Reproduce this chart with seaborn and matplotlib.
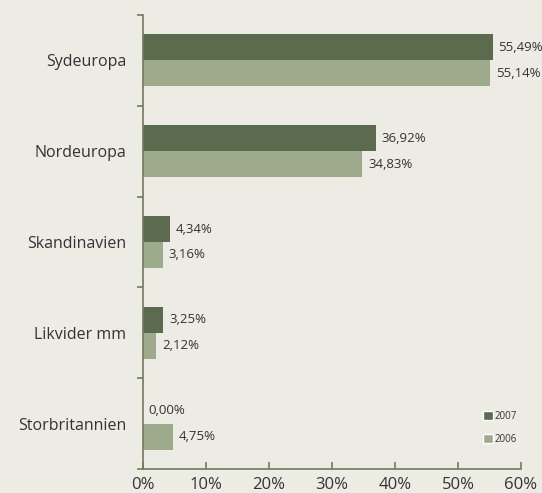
import pandas as pd
import matplotlib.pyplot as plt
import seaborn as sns
from matplotlib.patches import Patch

regions = ["Sydeuropa", "Nordeuropa", "Skandinavien", "Likvider mm", "Storbritannien"]
share_2007 = [55.49, 36.92, 4.34, 3.25, 0.00]
share_2006 = [55.14, 34.83, 3.16, 2.12, 4.75]
years = ["2007", "2006"]
x_ticks = [0, 10, 20, 30, 40, 50, 60]

bg = "#ecebe4"
dark = "#5c6a4e"
light = "#9eaa8c"
axis_col = "#6e7c5e"
text_col = "#333333"

df = pd.DataFrame({
    "region": regions * 2,
    "share": share_2007 + share_2006,
    "year": [years[0]] * len(regions) + [years[1]] * len(regions),
})

sns.set_theme(style="white")
plt.rcParams["font.family"] = ["Open Sans", "DejaVu Sans"]

fig = plt.figure(figsize=(5.42, 4.93), dpi=100, facecolor=bg)
ax = fig.add_axes([143 / 542, 1 - 469 / 493, 378 / 542, 454 / 493])
ax.set_facecolor(bg)

sns.barplot(data=df, y="region", x="share", hue="year", order=regions,
            hue_order=years, palette=[dark, light], width=0.572,
            orient="h", saturation=1, legend=False, linewidth=0, ax=ax)

for container in ax.containers:
    labels = [f"{w:.2f}".replace(".", ",") + "%" for w in container.datavalues]
    ax.bar_label(container, labels=labels, padding=4, fontsize=9.5, color=text_col)

ax.set_xlim(0, 60)
ax.set_ylim(4.5, -0.5)
ax.set_xticks(x_ticks)
ax.set_xticklabels([f"{t}%" for t in x_ticks], fontsize=12, color=text_col)
ax.set_yticks(range(len(regions)))
ax.set_yticklabels(regions, fontsize=11.5, color=text_col)
ax.set_yticks([i - 0.5 for i in range(len(regions) + 1)], minor=True)
ax.tick_params(axis="y", which="major", length=0, pad=12)
ax.tick_params(axis="y", which="minor", length=4, width=1.2, color=axis_col, direction="out", left=True)
ax.tick_params(axis="x", length=5, width=1.2, color=axis_col, direction="in", bottom=True, pad=6)
ax.set_xlabel("")
ax.set_ylabel("")

for side in ["top", "right"]:
    ax.spines[side].set_visible(False)
for side in ["left", "bottom"]:
    ax.spines[side].set_color(axis_col)
    ax.spines[side].set_linewidth(1.2)

handles = [Patch(facecolor=dark, label="2007"), Patch(facecolor=light, label="2006")]
ax.legend(handles=handles, loc="lower right", bbox_to_anchor=(1.0, 0.045), frameon=False,
          fontsize=7, handlelength=1.0, handleheight=1.1, handletextpad=0.2,
          labelspacing=1.2, labelcolor=text_col, borderaxespad=0)

fig.savefig("out.png", dpi=100, facecolor=bg)
